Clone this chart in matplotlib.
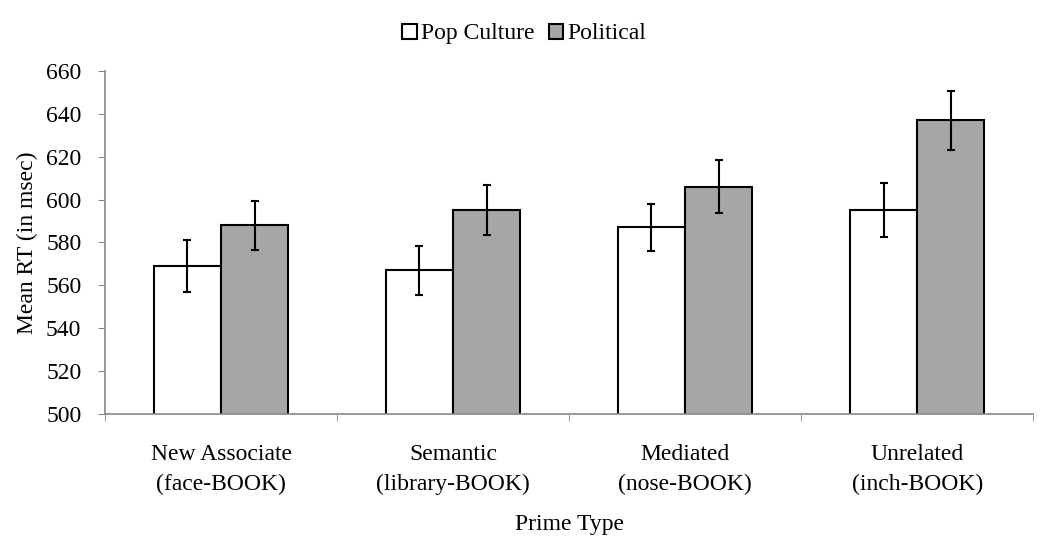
import matplotlib
matplotlib.use("Agg")
import matplotlib.pyplot as plt
import numpy as np
from matplotlib.ticker import MultipleLocator

categories = ["New Associate\n(face-BOOK)", "Semantic\n(library-BOOK)", "Mediated\n(nose-BOOK)", "Unrelated\n(inch-BOOK)"]
pop_culture = [569, 567, 587, 595]
pop_err = [12, 11.5, 11, 12.5]
political = [588, 595, 606, 637]
political_err = [11.5, 11.7, 12.5, 13.7]
series_names = ["Pop Culture", "Political"]

plt.rcParams['font.family'] = ['Liberation Serif', 'DejaVu Serif']

fig = plt.figure(figsize=(10.5, 5.46), dpi=100)
ax = fig.add_axes([0.1, 0.242, 0.884, 0.628])

x = np.arange(len(categories))
w = 0.29
ax.bar(x - w/2, pop_culture, w, color="white", edgecolor="black", linewidth=1.5,
       yerr=pop_err, error_kw=dict(ecolor="black", elinewidth=1.5, capsize=3, capthick=1.5),
       label=series_names[0], zorder=2)
ax.bar(x + w/2, political, w, color="#a6a6a6", edgecolor="black", linewidth=1.5,
       yerr=political_err, error_kw=dict(ecolor="black", elinewidth=1.5, capsize=3, capthick=1.5),
       label=series_names[1], zorder=2)

ax.set_xlim(-0.5, len(categories) - 0.5)
ax.set_ylim(500, 660)
ax.yaxis.set_major_locator(MultipleLocator(20))
ax.set_xticks(x)
ax.set_xticklabels(categories, fontsize=17, linespacing=1.5)
ax.set_xticks(np.arange(-0.5, len(categories)), minor=True)
ax.tick_params(axis='x', which='major', length=0, pad=22)
ax.tick_params(axis='x', which='minor', length=5, color="#888888", direction='out')
ax.tick_params(axis='y', labelsize=17, length=5, color="#888888", direction='out', pad=12)

for s in ["top", "right"]:
    ax.spines[s].set_visible(False)
for s in ["left", "bottom"]:
    ax.spines[s].set_color("#888888")
    ax.spines[s].set_linewidth(1.2)

ax.set_ylabel("Mean RT (in msec)", fontsize=17, labelpad=6)
ax.set_xlabel("Prime Type", fontsize=17, labelpad=14)

leg = ax.legend(loc="lower center", bbox_to_anchor=(0.452, 1.05), ncol=2, frameon=False,
                fontsize=17, handlelength=0.6, handleheight=0.6, handletextpad=0.2,
                columnspacing=0.6, borderaxespad=0)

fig.savefig("out.png", dpi=100)
